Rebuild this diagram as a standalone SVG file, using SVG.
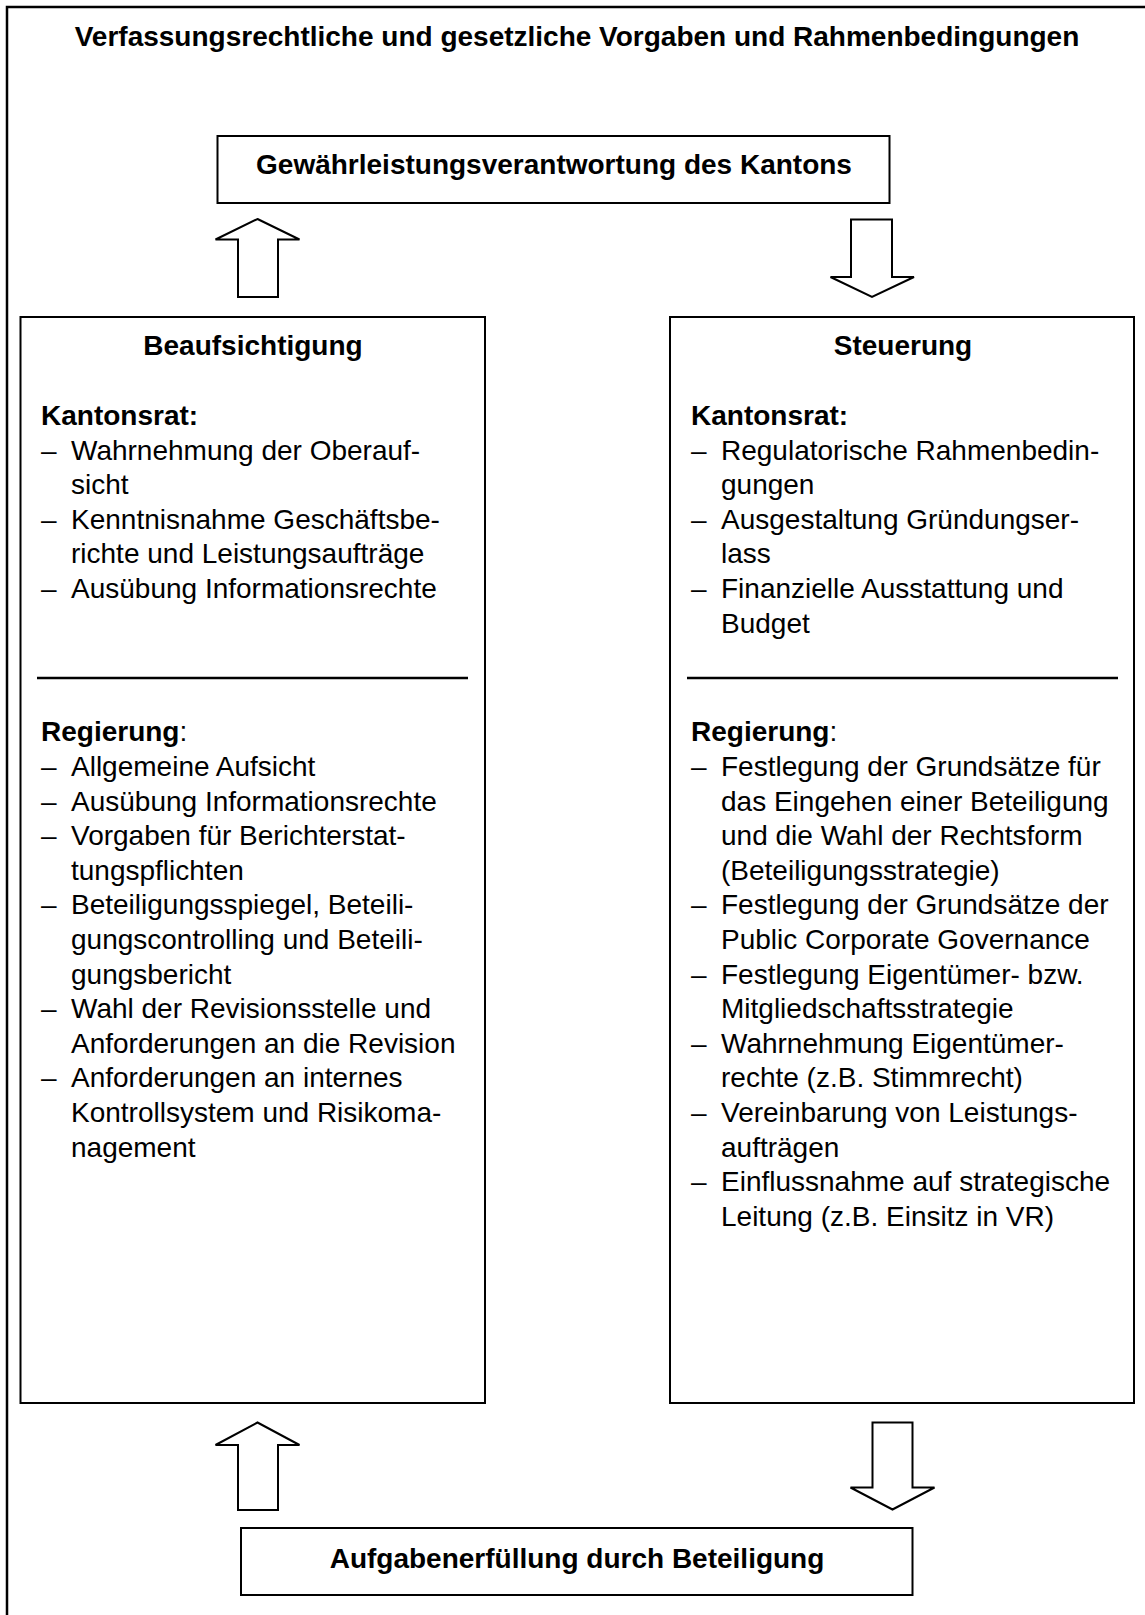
<svg xmlns="http://www.w3.org/2000/svg" width="1145" height="1615" viewBox="0 0 1145 1615">
  <style>
    text { font-family: "Liberation Sans", Arial, sans-serif; font-size: 28px; fill: #000; }
    .b { font-weight: bold; }
    .mid { text-anchor: middle; }
    .box { fill: #fff; stroke: #000; stroke-width: 2; }
    .rule { stroke: #000; stroke-width: 2.5; }
    .blk { fill: #fff; stroke: #000; stroke-width: 2; stroke-linejoin: miter; }
  </style>
  <rect width="1145" height="1615" fill="#fff"/>

  <!-- frame: constitutional and legal framework -->
  <g id="frame">
    <path d="M7,1615 V7 H1145" fill="none" stroke="#000" stroke-width="2.5"/>
    <text class="b mid" x="577" y="45.5">Verfassungsrechtliche und gesetzliche Vorgaben und Rahmenbedingungen</text>
  </g>

  <g id="gewaehrleistung">
    <rect class="box" x="217.5" y="136" width="672" height="67"/>
    <text class="b mid" x="554" y="174">Gewährleistungsverantwortung des Kantons</text>
  </g>

  <!-- supervision column -->
  <g id="beaufsichtigung">
    <rect class="box" x="20.5" y="317" width="464.5" height="1086"/>
    <text class="b mid" x="253" y="355">Beaufsichtigung</text>
    <text class="b" x="41" y="425">Kantonsrat:</text>
    <g>
      <text x="41" y="459.6">–</text><text x="71" y="459.6">Wahrnehmung der Oberauf-</text>
      <text x="71" y="494.2">sicht</text>
      <text x="41" y="528.8">–</text><text x="71" y="528.8">Kenntnisnahme Geschäftsbe-</text>
      <text x="71" y="563.4">richte und Leistungsaufträge</text>
      <text x="41" y="598">–</text><text x="71" y="598">Ausübung Informationsrechte</text>
    </g>
    <line class="rule" x1="37" y1="678" x2="468" y2="678"/>
    <text x="41" y="741.4"><tspan class="b">Regierung</tspan>:</text>
    <g>
      <text x="41" y="776">–</text><text x="71" y="776">Allgemeine Aufsicht</text>
      <text x="41" y="810.6">–</text><text x="71" y="810.6">Ausübung Informationsrechte</text>
      <text x="41" y="845.2">–</text><text x="71" y="845.2">Vorgaben für Berichterstat-</text>
      <text x="71" y="879.8">tungspflichten</text>
      <text x="41" y="914.4">–</text><text x="71" y="914.4">Beteiligungsspiegel, Beteili-</text>
      <text x="71" y="949">gungscontrolling und Beteili-</text>
      <text x="71" y="983.6">gungsbericht</text>
      <text x="41" y="1018.2">–</text><text x="71" y="1018.2">Wahl der Revisionsstelle und</text>
      <text x="71" y="1052.8">Anforderungen an die Revision</text>
      <text x="41" y="1087.4">–</text><text x="71" y="1087.4">Anforderungen an internes</text>
      <text x="71" y="1122">Kontrollsystem und Risikoma-</text>
      <text x="71" y="1156.6">nagement</text>
    </g>
  </g>

  <!-- steering column -->
  <g id="steuerung">
    <rect class="box" x="670" y="317" width="464" height="1086"/>
    <text class="b mid" x="903" y="355">Steuerung</text>
    <text class="b" x="691" y="425">Kantonsrat:</text>
    <g>
      <text x="691" y="459.6">–</text><text x="721" y="459.6">Regulatorische Rahmenbedin-</text>
      <text x="721" y="494.2">gungen</text>
      <text x="691" y="528.8">–</text><text x="721" y="528.8">Ausgestaltung Gründungser-</text>
      <text x="721" y="563.4">lass</text>
      <text x="691" y="598">–</text><text x="721" y="598">Finanzielle Ausstattung und</text>
      <text x="721" y="632.6">Budget</text>
    </g>
    <line class="rule" x1="687" y1="678" x2="1118" y2="678"/>
    <text x="691" y="741.4"><tspan class="b">Regierung</tspan>:</text>
    <g>
      <text x="691" y="776">–</text><text x="721" y="776">Festlegung der Grundsätze für</text>
      <text x="721" y="810.6">das Eingehen einer Beteiligung</text>
      <text x="721" y="845.2">und die Wahl der Rechtsform</text>
      <text x="721" y="879.8">(Beteiligungsstrategie)</text>
      <text x="691" y="914.4">–</text><text x="721" y="914.4">Festlegung der Grundsätze der</text>
      <text x="721" y="949">Public Corporate Governance</text>
      <text x="691" y="983.6">–</text><text x="721" y="983.6">Festlegung Eigentümer- bzw.</text>
      <text x="721" y="1018.2">Mitgliedschaftsstrategie</text>
      <text x="691" y="1052.8">–</text><text x="721" y="1052.8">Wahrnehmung Eigentümer-</text>
      <text x="721" y="1087.4">rechte (z.B. Stimmrecht)</text>
      <text x="691" y="1122">–</text><text x="721" y="1122">Vereinbarung von Leistungs-</text>
      <text x="721" y="1156.6">aufträgen</text>
      <text x="691" y="1191.2">–</text><text x="721" y="1191.2">Einflussnahme auf strategische</text>
      <text x="721" y="1225.8">Leitung (z.B. Einsitz in VR)</text>
    </g>
  </g>

  <g id="aufgabenerfuellung">
    <rect class="box" x="241" y="1528" width="671.5" height="67"/>
    <text class="b mid" x="577" y="1568">Aufgabenerfüllung durch Beteiligung</text>
  </g>

  <!-- block arrows between the boxes -->
  <g id="connectors">
    <polygon class="blk" points="257.5,219 299.5,239.5 278,239.5 278,297 238,297 238,239.5 215.5,239.5"/>
    <polygon class="blk" points="851,219.5 892,219.5 892,277 914,277 872,297 830.5,277 851,277"/>
    <polygon class="blk" points="257.5,1422.5 299.5,1445 278,1445 278,1510 238,1510 238,1445 215.5,1445"/>
    <polygon class="blk" points="872.5,1422.5 912.5,1422.5 912.5,1487.5 934.5,1487.5 892.5,1509.5 850.5,1487.5 872.5,1487.5"/>
  </g>
</svg>
